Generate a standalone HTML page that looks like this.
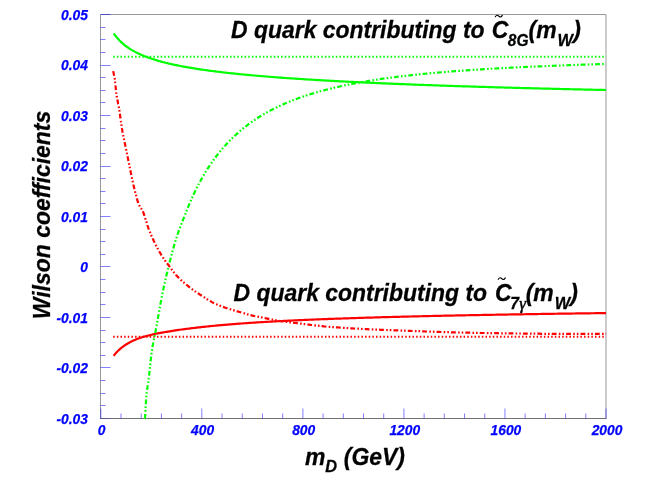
<!DOCTYPE html>
<html><head><meta charset="utf-8"><title>Wilson coefficients</title>
<style>
html,body{margin:0;padding:0;background:#fff;overflow:hidden;}
svg{display:block;}
text{font-family:"Liberation Sans",sans-serif;font-style:italic;font-weight:bold;}
.tl text{font-size:13.8px;fill:#0000ff;stroke:#0000ff;stroke-width:0.25px;}
.big{font-size:22.95px;fill:#000;stroke:#000;stroke-width:0.28px;}
.sub{font-size:17px;}
.til{font-size:14px;font-weight:normal;stroke-width:0.2px;}
</style></head><body>
<svg width="654" height="484" viewBox="0 0 654 484">
<rect x="0" y="0" width="654" height="484" fill="#fff"/>
<g fill="none" stroke-width="1">
<path d="M100.5,418.5 V14.5 H606.0 V418.5" stroke="#999"/>
<path d="M100.0,418.5 H606.5" stroke="#727272"/>
</g>
<g stroke="#0000ff" stroke-opacity="0.5" stroke-width="1" fill="none">
<line x1="100.80" y1="418.5" x2="100.80" y2="408.5"/>
<line x1="121.01" y1="418.5" x2="121.01" y2="413.5"/>
<line x1="141.22" y1="418.5" x2="141.22" y2="413.5"/>
<line x1="161.42" y1="418.5" x2="161.42" y2="413.5"/>
<line x1="181.63" y1="418.5" x2="181.63" y2="413.5"/>
<line x1="201.84" y1="418.5" x2="201.84" y2="408.5"/>
<line x1="222.05" y1="418.5" x2="222.05" y2="413.5"/>
<line x1="242.26" y1="418.5" x2="242.26" y2="413.5"/>
<line x1="262.46" y1="418.5" x2="262.46" y2="413.5"/>
<line x1="282.67" y1="418.5" x2="282.67" y2="413.5"/>
<line x1="302.88" y1="418.5" x2="302.88" y2="408.5"/>
<line x1="323.09" y1="418.5" x2="323.09" y2="413.5"/>
<line x1="343.30" y1="418.5" x2="343.30" y2="413.5"/>
<line x1="363.50" y1="418.5" x2="363.50" y2="413.5"/>
<line x1="383.71" y1="418.5" x2="383.71" y2="413.5"/>
<line x1="403.92" y1="418.5" x2="403.92" y2="408.5"/>
<line x1="424.13" y1="418.5" x2="424.13" y2="413.5"/>
<line x1="444.34" y1="418.5" x2="444.34" y2="413.5"/>
<line x1="464.54" y1="418.5" x2="464.54" y2="413.5"/>
<line x1="484.75" y1="418.5" x2="484.75" y2="413.5"/>
<line x1="504.96" y1="418.5" x2="504.96" y2="408.5"/>
<line x1="525.17" y1="418.5" x2="525.17" y2="413.5"/>
<line x1="545.38" y1="418.5" x2="545.38" y2="413.5"/>
<line x1="565.58" y1="418.5" x2="565.58" y2="413.5"/>
<line x1="585.79" y1="418.5" x2="585.79" y2="413.5"/>
<line x1="606.00" y1="418.5" x2="606.00" y2="408.5"/>
<line x1="100.5" y1="14.50" x2="110.5" y2="14.50"/>
<line x1="100.5" y1="27.50" x2="105.5" y2="27.50"/>
<line x1="100.5" y1="39.50" x2="105.5" y2="39.50"/>
<line x1="100.5" y1="52.50" x2="105.5" y2="52.50"/>
<line x1="100.5" y1="65.50" x2="110.5" y2="65.50"/>
<line x1="100.5" y1="77.50" x2="105.5" y2="77.50"/>
<line x1="100.5" y1="90.50" x2="105.5" y2="90.50"/>
<line x1="100.5" y1="102.50" x2="105.5" y2="102.50"/>
<line x1="100.5" y1="115.50" x2="110.5" y2="115.50"/>
<line x1="100.5" y1="128.50" x2="105.5" y2="128.50"/>
<line x1="100.5" y1="140.50" x2="105.5" y2="140.50"/>
<line x1="100.5" y1="153.50" x2="105.5" y2="153.50"/>
<line x1="100.5" y1="166.50" x2="110.5" y2="166.50"/>
<line x1="100.5" y1="178.50" x2="105.5" y2="178.50"/>
<line x1="100.5" y1="191.50" x2="105.5" y2="191.50"/>
<line x1="100.5" y1="203.50" x2="105.5" y2="203.50"/>
<line x1="100.5" y1="216.50" x2="110.5" y2="216.50"/>
<line x1="100.5" y1="229.50" x2="105.5" y2="229.50"/>
<line x1="100.5" y1="241.50" x2="105.5" y2="241.50"/>
<line x1="100.5" y1="254.50" x2="105.5" y2="254.50"/>
<line x1="100.5" y1="266.50" x2="110.5" y2="266.50"/>
<line x1="100.5" y1="279.50" x2="105.5" y2="279.50"/>
<line x1="100.5" y1="292.50" x2="105.5" y2="292.50"/>
<line x1="100.5" y1="304.50" x2="105.5" y2="304.50"/>
<line x1="100.5" y1="317.50" x2="110.5" y2="317.50"/>
<line x1="100.5" y1="330.50" x2="105.5" y2="330.50"/>
<line x1="100.5" y1="342.50" x2="105.5" y2="342.50"/>
<line x1="100.5" y1="355.50" x2="105.5" y2="355.50"/>
<line x1="100.5" y1="367.50" x2="110.5" y2="367.50"/>
<line x1="100.5" y1="380.50" x2="105.5" y2="380.50"/>
<line x1="100.5" y1="393.50" x2="105.5" y2="393.50"/>
<line x1="100.5" y1="405.50" x2="105.5" y2="405.50"/>
<line x1="100.5" y1="418.50" x2="110.5" y2="418.50" stroke-opacity="0.2"/>
</g>
<g fill="none" stroke-width="2.2" stroke-linejoin="round">
<path stroke="#00ff00" d="M113.80,33.32 L114.65,34.56 L115.55,35.79 L116.50,37.01 L117.50,38.22 L118.50,39.35 L119.55,40.48 L120.65,41.58 L121.75,42.63 L122.90,43.66 L124.05,44.63 L125.25,45.59 L126.45,46.50 L127.70,47.39 L128.95,48.25 L130.25,49.09 L131.55,49.89 L132.85,50.65 L134.20,51.40 L135.55,52.12 L136.90,52.81 L138.25,53.47 L139.65,54.12 L141.05,54.74 L142.45,55.35 L143.85,55.92 L145.25,56.48 L146.70,57.03 L148.15,57.57 L149.60,58.08 L151.05,58.58 L152.50,59.05 L153.95,59.52 L155.40,59.97 L156.85,60.40 L158.30,60.82 L159.75,61.23 L161.20,61.63 L162.65,62.01 L164.15,62.40 L165.65,62.77 L167.15,63.14 L168.65,63.50 L170.15,63.84 L171.65,64.18 L173.15,64.51 L174.65,64.83 L176.15,65.15 L177.65,65.45 L179.15,65.75 L180.65,66.04 L182.15,66.33 L183.65,66.61 L185.15,66.88 L186.65,67.15 L188.15,67.41 L189.65,67.67 L191.15,67.92 L192.65,68.17 L194.15,68.41 L195.65,68.65 L197.15,68.88 L198.65,69.11 L200.15,69.34 L201.65,69.56 L203.15,69.77 L204.65,69.99 L206.15,70.20 L207.65,70.40 L209.15,70.61 L210.65,70.81 L212.15,71.00 L213.65,71.20 L215.15,71.39 L216.65,71.57 L218.15,71.76 L219.65,71.94 L221.15,72.12 L222.65,72.30 L224.15,72.47 L225.65,72.64 L227.15,72.81 L228.65,72.98 L230.15,73.14 L231.65,73.30 L233.15,73.46 L234.65,73.62 L236.15,73.78 L237.65,73.93 L239.15,74.08 L240.65,74.23 L242.15,74.38 L243.65,74.53 L245.15,74.67 L246.65,74.81 L248.15,74.95 L249.65,75.09 L251.15,75.23 L252.65,75.37 L254.15,75.50 L255.65,75.63 L257.15,75.76 L258.65,75.89 L260.15,76.02 L261.65,76.15 L263.15,76.27 L264.65,76.40 L266.15,76.52 L267.65,76.64 L269.15,76.76 L270.65,76.88 L272.15,77.00 L273.65,77.11 L275.15,77.23 L276.65,77.34 L278.15,77.45 L279.65,77.57 L281.15,77.68 L282.65,77.79 L284.15,77.89 L285.65,78.00 L287.15,78.11 L288.65,78.21 L290.15,78.32 L291.65,78.42 L293.15,78.52 L294.65,78.62 L296.15,78.72 L297.65,78.82 L299.15,78.92 L300.65,79.02 L302.15,79.12 L303.65,79.21 L305.15,79.31 L306.65,79.40 L308.15,79.49 L309.65,79.59 L311.15,79.68 L312.65,79.77 L314.15,79.86 L315.65,79.95 L317.15,80.04 L318.65,80.13 L320.15,80.21 L321.65,80.30 L323.15,80.39 L324.65,80.47 L326.15,80.55 L327.65,80.64 L329.15,80.72 L330.65,80.80 L332.15,80.89 L333.65,80.97 L335.15,81.05 L336.65,81.13 L338.15,81.21 L339.65,81.29 L341.15,81.36 L342.65,81.44 L344.15,81.52 L345.65,81.60 L347.15,81.67 L348.65,81.75 L350.15,81.82 L351.65,81.90 L353.15,81.97 L354.65,82.04 L356.15,82.12 L357.65,82.19 L359.15,82.26 L360.65,82.33 L362.15,82.40 L363.65,82.47 L365.15,82.54 L366.65,82.61 L368.15,82.68 L369.65,82.75 L371.15,82.82 L372.65,82.88 L374.15,82.95 L375.65,83.02 L377.15,83.08 L378.65,83.15 L380.15,83.22 L381.65,83.28 L383.15,83.35 L384.65,83.41 L386.15,83.47 L387.65,83.54 L389.15,83.60 L390.65,83.66 L392.15,83.72 L393.65,83.79 L395.15,83.85 L396.65,83.91 L398.15,83.97 L399.65,84.03 L401.15,84.09 L402.65,84.15 L404.15,84.21 L405.65,84.27 L407.15,84.33 L408.65,84.38 L410.15,84.44 L411.65,84.50 L413.15,84.56 L414.65,84.61 L416.15,84.67 L417.65,84.73 L419.15,84.78 L420.65,84.84 L422.15,84.89 L423.65,84.95 L425.15,85.00 L426.65,85.06 L428.15,85.11 L429.65,85.16 L431.15,85.22 L432.65,85.27 L434.15,85.32 L435.65,85.38 L437.15,85.43 L438.65,85.48 L440.15,85.53 L441.65,85.58 L443.15,85.64 L444.65,85.69 L446.15,85.74 L447.65,85.79 L449.15,85.84 L450.65,85.89 L452.15,85.94 L453.65,85.99 L455.15,86.04 L456.65,86.09 L458.15,86.13 L459.65,86.18 L461.15,86.23 L462.65,86.28 L464.15,86.33 L465.65,86.37 L467.15,86.42 L468.65,86.47 L470.15,86.52 L471.65,86.56 L473.15,86.61 L474.65,86.65 L476.15,86.70 L477.65,86.75 L479.15,86.79 L480.65,86.84 L482.15,86.88 L483.65,86.93 L485.15,86.97 L486.65,87.02 L488.15,87.06 L489.65,87.10 L491.15,87.15 L492.65,87.19 L494.15,87.24 L495.65,87.28 L497.15,87.32 L498.65,87.37 L500.15,87.41 L501.65,87.45 L503.15,87.49 L504.65,87.53 L506.15,87.58 L507.65,87.62 L509.15,87.66 L510.65,87.70 L512.15,87.74 L513.65,87.78 L515.15,87.82 L516.65,87.87 L518.15,87.91 L519.65,87.95 L521.15,87.99 L522.65,88.03 L524.15,88.07 L525.65,88.11 L527.15,88.15 L528.65,88.19 L530.15,88.22 L531.65,88.26 L533.15,88.30 L534.65,88.34 L536.15,88.38 L537.65,88.42 L539.15,88.46 L540.65,88.49 L542.15,88.53 L543.65,88.57 L545.15,88.61 L546.65,88.65 L548.15,88.68 L549.65,88.72 L551.15,88.76 L552.65,88.79 L554.15,88.83 L555.65,88.87 L557.15,88.90 L558.65,88.94 L560.15,88.98 L561.65,89.01 L563.15,89.05 L564.65,89.08 L566.15,89.12 L567.65,89.16 L569.15,89.19 L570.65,89.23 L572.15,89.26 L573.65,89.30 L575.15,89.33 L576.65,89.37 L578.15,89.40 L579.65,89.43 L581.15,89.47 L582.65,89.50 L584.15,89.54 L585.65,89.57 L587.15,89.61 L588.65,89.64 L590.15,89.67 L591.65,89.71 L593.15,89.74 L594.65,89.77 L596.15,89.81 L597.65,89.84 L599.15,89.87 L600.65,89.90 L602.15,89.94 L603.65,89.97 L605.15,90.00 L606.00,90.02"/>
<path stroke="#ff0000" d="M113.60,355.86 L114.55,354.66 L115.55,353.49 L116.60,352.33 L117.65,351.24 L118.75,350.18 L119.90,349.13 L121.05,348.15 L122.25,347.19 L123.50,346.26 L124.75,345.38 L126.05,344.53 L127.35,343.72 L128.65,342.97 L130.00,342.24 L131.35,341.54 L132.75,340.87 L134.15,340.24 L135.55,339.64 L136.95,339.08 L138.40,338.53 L139.85,338.01 L141.30,337.53 L142.75,337.07 L144.20,336.63 L145.65,336.22 L147.10,335.83 L148.60,335.44 L150.10,335.07 L151.60,334.71 L153.10,334.37 L154.60,334.04 L156.10,333.73 L157.60,333.42 L159.10,333.13 L160.60,332.85 L162.10,332.57 L163.60,332.30 L165.10,332.04 L166.60,331.79 L168.10,331.54 L169.60,331.30 L171.10,331.06 L172.60,330.83 L174.10,330.60 L175.60,330.38 L177.10,330.16 L178.60,329.95 L180.10,329.74 L181.60,329.53 L183.10,329.32 L184.60,329.12 L186.10,328.93 L187.60,328.73 L189.10,328.54 L190.60,328.35 L192.10,328.17 L193.60,327.99 L195.10,327.81 L196.60,327.63 L198.10,327.46 L199.60,327.29 L201.10,327.13 L202.60,326.96 L204.10,326.80 L205.60,326.64 L207.10,326.48 L208.60,326.33 L210.10,326.18 L211.60,326.03 L213.10,325.88 L214.60,325.74 L216.10,325.59 L217.60,325.45 L219.10,325.32 L220.60,325.18 L222.10,325.05 L223.60,324.91 L225.10,324.78 L226.60,324.66 L228.10,324.53 L229.60,324.41 L231.10,324.28 L232.60,324.16 L234.10,324.05 L235.60,323.93 L237.10,323.81 L238.60,323.70 L240.10,323.59 L241.60,323.48 L243.10,323.37 L244.60,323.26 L246.10,323.16 L247.60,323.05 L249.10,322.95 L250.60,322.85 L252.10,322.75 L253.60,322.65 L255.10,322.56 L256.60,322.46 L258.10,322.37 L259.60,322.27 L261.10,322.18 L262.60,322.09 L264.10,322.00 L265.60,321.91 L267.10,321.82 L268.60,321.74 L270.10,321.65 L271.60,321.57 L273.10,321.49 L274.60,321.40 L276.10,321.32 L277.60,321.24 L279.10,321.16 L280.60,321.08 L282.10,321.01 L283.60,320.93 L285.10,320.85 L286.60,320.78 L288.10,320.71 L289.60,320.63 L291.10,320.56 L292.60,320.49 L294.10,320.42 L295.60,320.35 L297.10,320.28 L298.60,320.21 L300.10,320.14 L301.60,320.07 L303.10,320.01 L304.60,319.94 L306.10,319.88 L307.60,319.81 L309.10,319.75 L310.60,319.68 L312.10,319.62 L313.60,319.56 L315.10,319.50 L316.60,319.44 L318.10,319.38 L319.60,319.32 L321.10,319.26 L322.60,319.20 L324.10,319.14 L325.60,319.08 L327.10,319.03 L328.60,318.97 L330.10,318.91 L331.60,318.86 L333.10,318.80 L334.60,318.75 L336.10,318.69 L337.60,318.64 L339.10,318.59 L340.60,318.53 L342.10,318.48 L343.60,318.43 L345.10,318.38 L346.60,318.33 L348.10,318.28 L349.60,318.23 L351.10,318.18 L352.60,318.13 L354.10,318.08 L355.60,318.03 L357.10,317.98 L358.60,317.94 L360.10,317.89 L361.60,317.84 L363.10,317.80 L364.60,317.75 L366.10,317.70 L367.60,317.66 L369.10,317.61 L370.60,317.57 L372.10,317.53 L373.60,317.48 L375.10,317.44 L376.60,317.39 L378.10,317.35 L379.60,317.31 L381.10,317.27 L382.60,317.22 L384.10,317.18 L385.60,317.14 L387.10,317.10 L388.60,317.06 L390.10,317.02 L391.60,316.98 L393.10,316.94 L394.60,316.90 L396.10,316.86 L397.60,316.82 L399.10,316.78 L400.60,316.74 L402.10,316.70 L403.60,316.66 L405.10,316.63 L406.60,316.59 L408.10,316.55 L409.60,316.51 L411.10,316.48 L412.60,316.44 L414.10,316.40 L415.60,316.37 L417.10,316.33 L418.60,316.30 L420.10,316.26 L421.60,316.23 L423.10,316.19 L424.60,316.16 L426.10,316.12 L427.60,316.09 L429.10,316.05 L430.60,316.02 L432.10,315.99 L433.60,315.95 L435.10,315.92 L436.60,315.89 L438.10,315.85 L439.60,315.82 L441.10,315.79 L442.60,315.76 L444.10,315.72 L445.60,315.69 L447.10,315.66 L448.60,315.63 L450.10,315.60 L451.60,315.57 L453.10,315.53 L454.60,315.50 L456.10,315.47 L457.60,315.44 L459.10,315.41 L460.60,315.38 L462.10,315.35 L463.60,315.32 L465.10,315.29 L466.60,315.26 L468.10,315.23 L469.60,315.21 L471.10,315.18 L472.60,315.15 L474.10,315.12 L475.60,315.09 L477.10,315.06 L478.60,315.03 L480.10,315.01 L481.60,314.98 L483.10,314.95 L484.60,314.92 L486.10,314.90 L487.60,314.87 L489.10,314.84 L490.60,314.81 L492.10,314.79 L493.60,314.76 L495.10,314.73 L496.60,314.71 L498.10,314.68 L499.60,314.65 L501.10,314.63 L502.60,314.60 L504.10,314.58 L505.60,314.55 L507.10,314.53 L508.60,314.50 L510.10,314.47 L511.60,314.45 L513.10,314.42 L514.60,314.40 L516.10,314.37 L517.60,314.35 L519.10,314.33 L520.60,314.30 L522.10,314.28 L523.60,314.25 L525.10,314.23 L526.60,314.20 L528.10,314.18 L529.60,314.16 L531.10,314.13 L532.60,314.11 L534.10,314.09 L535.60,314.06 L537.10,314.04 L538.60,314.02 L540.10,313.99 L541.60,313.97 L543.10,313.95 L544.60,313.92 L546.10,313.90 L547.60,313.88 L549.10,313.86 L550.60,313.83 L552.10,313.81 L553.60,313.79 L555.10,313.77 L556.60,313.75 L558.10,313.72 L559.60,313.70 L561.10,313.68 L562.60,313.66 L564.10,313.64 L565.60,313.62 L567.10,313.60 L568.60,313.57 L570.10,313.55 L571.60,313.53 L573.10,313.51 L574.60,313.49 L576.10,313.47 L577.60,313.45 L579.10,313.43 L580.60,313.41 L582.10,313.39 L583.60,313.37 L585.10,313.35 L586.60,313.33 L588.10,313.31 L589.60,313.29 L591.10,313.27 L592.60,313.25 L594.10,313.23 L595.60,313.21 L597.10,313.19 L598.60,313.17 L600.10,313.15 L601.60,313.13 L603.10,313.11 L604.60,313.09 L606.00,313.07"/>
<path stroke="#00ff00" stroke-width="2" stroke-dasharray="1.5 2.15" d="M113.2,56.85 H606"/>
<path stroke="#ff0000" stroke-width="2" stroke-dasharray="1.5 2.15" d="M113.2,336.85 H606"/>
<path stroke="#00ff00" stroke-dasharray="4.8 2.3 1.6 2 1.6 2.1" d="M144.60,418.51 L144.95,418.24 L145.10,416.63 L145.25,414.41 L145.35,412.70 L145.45,410.86 L145.55,408.95 L145.65,407.04 L145.75,405.17 L145.85,403.41 L145.95,401.77 L146.05,400.25 L146.20,398.17 L146.35,396.32 L146.50,394.67 L146.70,392.73 L146.90,391.06 L147.15,389.24 L147.40,387.64 L147.65,386.15 L147.90,384.67 L148.15,383.11 L148.40,381.37 L148.60,379.82 L148.80,378.16 L149.00,376.41 L149.20,374.57 L149.40,372.68 L149.60,370.75 L149.80,368.80 L150.00,366.85 L150.20,364.92 L150.40,363.02 L150.60,361.16 L150.80,359.38 L151.00,357.68 L151.20,356.05 L151.40,354.50 L151.65,352.66 L151.90,350.91 L152.15,349.25 L152.40,347.67 L152.65,346.17 L152.95,344.44 L153.25,342.79 L153.55,341.20 L153.85,339.66 L154.15,338.15 L154.45,336.67 L154.75,335.19 L155.05,333.72 L155.35,332.23 L155.65,330.72 L155.95,329.18 L156.25,327.59 L156.55,325.98 L156.85,324.33 L157.15,322.66 L157.45,320.98 L157.75,319.28 L158.05,317.56 L158.35,315.85 L158.65,314.13 L158.95,312.41 L159.25,310.69 L159.55,308.99 L159.85,307.30 L160.15,305.62 L160.45,303.97 L160.75,302.33 L161.05,300.73 L161.35,299.14 L161.65,297.58 L161.95,296.05 L162.25,294.53 L162.55,293.04 L162.85,291.57 L163.20,289.87 L163.55,288.21 L163.90,286.56 L164.25,284.94 L164.60,283.34 L164.95,281.76 L165.30,280.21 L165.65,278.67 L166.00,277.14 L166.35,275.64 L166.70,274.15 L167.05,272.68 L167.40,271.22 L167.80,269.56 L168.20,267.93 L168.60,266.30 L169.00,264.69 L169.40,263.10 L169.80,261.52 L170.20,259.95 L170.60,258.40 L171.00,256.87 L171.40,255.35 L171.80,253.85 L172.20,252.37 L172.60,250.91 L173.05,249.28 L173.50,247.68 L173.95,246.11 L174.40,244.56 L174.85,243.04 L175.30,241.55 L175.75,240.08 L176.20,238.65 L176.70,237.08 L177.20,235.56 L177.70,234.07 L178.20,232.62 L178.70,231.20 L179.25,229.68 L179.80,228.19 L180.35,226.74 L180.90,225.30 L181.45,223.88 L182.00,222.47 L182.55,221.06 L183.10,219.66 L183.65,218.26 L184.20,216.85 L184.75,215.45 L185.30,214.05 L185.90,212.53 L186.50,211.02 L187.10,209.52 L187.70,208.04 L188.30,206.57 L188.90,205.12 L189.50,203.69 L190.10,202.28 L190.70,200.89 L191.35,199.41 L192.00,197.95 L192.65,196.51 L193.30,195.10 L193.95,193.70 L194.60,192.33 L195.30,190.88 L196.00,189.45 L196.70,188.04 L197.40,186.65 L198.10,185.29 L198.80,183.95 L199.55,182.54 L200.30,181.15 L201.05,179.78 L201.80,178.43 L202.55,177.11 L203.30,175.81 L204.10,174.45 L204.90,173.11 L205.70,171.79 L206.50,170.50 L207.30,169.22 L208.15,167.89 L209.00,166.59 L209.85,165.31 L210.70,164.05 L211.55,162.81 L212.45,161.52 L213.35,160.25 L214.25,159.01 L215.15,157.79 L216.10,156.53 L217.05,155.29 L218.00,154.07 L218.95,152.87 L219.90,151.70 L220.90,150.49 L221.90,149.30 L222.90,148.13 L223.90,146.98 L224.90,145.86 L225.95,144.70 L227.00,143.56 L228.05,142.44 L229.10,141.35 L230.15,140.27 L231.25,139.17 L232.35,138.08 L233.45,137.02 L234.55,135.98 L235.65,134.95 L236.80,133.90 L237.95,132.87 L239.10,131.87 L240.25,130.88 L241.40,129.91 L242.60,128.91 L243.80,127.94 L245.00,126.98 L246.20,126.05 L247.40,125.13 L248.60,124.23 L249.85,123.31 L251.10,122.41 L252.35,121.53 L253.60,120.66 L254.85,119.81 L256.10,118.98 L257.40,118.13 L258.70,117.30 L260.00,116.48 L261.30,115.68 L262.60,114.90 L263.90,114.13 L265.20,113.38 L266.55,112.61 L267.90,111.86 L269.25,111.12 L270.60,110.40 L271.95,109.69 L273.30,109.00 L274.65,108.32 L276.00,107.65 L277.35,106.99 L278.75,106.33 L280.15,105.67 L281.55,105.03 L282.95,104.40 L284.35,103.79 L285.75,103.18 L287.15,102.59 L288.55,102.01 L289.95,101.44 L291.35,100.88 L292.75,100.32 L294.15,99.78 L295.60,99.24 L297.05,98.70 L298.50,98.17 L299.95,97.65 L301.40,97.14 L302.85,96.64 L304.30,96.15 L305.75,95.67 L307.20,95.20 L308.65,94.73 L310.10,94.27 L311.55,93.83 L313.00,93.39 L314.45,92.95 L315.90,92.53 L317.35,92.11 L318.80,91.70 L320.25,91.29 L321.70,90.90 L323.15,90.51 L324.65,90.11 L326.15,89.72 L327.65,89.34 L329.15,88.96 L330.65,88.59 L332.15,88.22 L333.65,87.86 L335.15,87.51 L336.65,87.16 L338.15,86.82 L339.65,86.49 L341.15,86.16 L342.65,85.83 L344.15,85.51 L345.65,85.20 L347.15,84.89 L348.65,84.58 L350.15,84.28 L351.65,83.98 L353.15,83.69 L354.65,83.41 L356.15,83.12 L357.65,82.85 L359.15,82.57 L360.65,82.30 L362.15,82.04 L363.65,81.78 L365.15,81.52 L366.65,81.27 L368.15,81.02 L369.65,80.77 L371.15,80.53 L372.65,80.29 L374.15,80.05 L375.65,79.82 L377.15,79.59 L378.65,79.37 L380.15,79.14 L381.65,78.93 L383.15,78.71 L384.65,78.50 L386.15,78.29 L387.65,78.08 L389.15,77.88 L390.65,77.68 L392.15,77.48 L393.65,77.28 L395.15,77.09 L396.65,76.90 L398.15,76.71 L399.65,76.53 L401.15,76.35 L402.65,76.17 L404.15,75.99 L405.65,75.81 L407.15,75.64 L408.65,75.47 L410.15,75.30 L411.65,75.14 L413.15,74.97 L414.65,74.81 L416.15,74.65 L417.65,74.50 L419.15,74.34 L420.65,74.19 L422.15,74.04 L423.65,73.89 L425.15,73.74 L426.65,73.60 L428.15,73.45 L429.65,73.31 L431.15,73.17 L432.65,73.03 L434.15,72.90 L435.65,72.76 L437.15,72.63 L438.65,72.50 L440.15,72.37 L441.65,72.24 L443.15,72.11 L444.65,71.99 L446.15,71.86 L447.65,71.74 L449.15,71.62 L450.65,71.50 L452.15,71.38 L453.65,71.27 L455.15,71.15 L456.65,71.04 L458.15,70.93 L459.65,70.82 L461.15,70.71 L462.65,70.60 L464.15,70.49 L465.65,70.39 L467.15,70.28 L468.65,70.18 L470.15,70.07 L471.65,69.97 L473.15,69.87 L474.65,69.77 L476.15,69.68 L477.65,69.58 L479.15,69.48 L480.65,69.39 L482.15,69.30 L483.65,69.20 L485.15,69.11 L486.65,69.02 L488.15,68.93 L489.65,68.84 L491.15,68.75 L492.65,68.67 L494.15,68.58 L495.65,68.50 L497.15,68.41 L498.65,68.33 L500.15,68.25 L501.65,68.16 L503.15,68.08 L504.65,68.00 L506.15,67.92 L507.65,67.85 L509.15,67.77 L510.65,67.69 L512.15,67.61 L513.65,67.54 L515.15,67.46 L516.65,67.39 L518.15,67.32 L519.65,67.24 L521.15,67.17 L522.65,67.10 L524.15,67.03 L525.65,66.96 L527.15,66.89 L528.65,66.82 L530.15,66.75 L531.65,66.69 L533.15,66.62 L534.65,66.55 L536.15,66.49 L537.65,66.42 L539.15,66.36 L540.65,66.29 L542.15,66.23 L543.65,66.17 L545.15,66.11 L546.65,66.04 L548.15,65.98 L549.65,65.92 L551.15,65.86 L552.65,65.80 L554.15,65.74 L555.65,65.68 L557.15,65.62 L558.65,65.57 L560.15,65.51 L561.65,65.45 L563.15,65.40 L564.65,65.34 L566.15,65.28 L567.65,65.23 L569.15,65.17 L570.65,65.12 L572.15,65.06 L573.65,65.01 L575.15,64.96 L576.65,64.90 L578.15,64.85 L579.65,64.80 L581.15,64.75 L582.65,64.70 L584.15,64.65 L585.65,64.59 L587.15,64.54 L588.65,64.49 L590.15,64.44 L591.65,64.39 L593.15,64.35 L594.65,64.30 L596.15,64.25 L597.65,64.20 L599.15,64.15 L600.65,64.10 L602.15,64.06 L603.65,64.01 L605.15,63.96 L606.00,63.94"/>
<path stroke="#ff0000" stroke-dasharray="4.8 2.3 1.6 2 1.6 2.1" d="M113.2,71.1 L113.5,72.6 L113.8,74.0 L114.1,75.5 L114.4,77.0 L114.7,78.5 L114.9,79.9 L115.1,81.4 L115.2,82.9 L115.4,84.4 L115.5,85.9 L115.7,87.4 L115.8,88.9 L115.9,90.4 L116.1,91.9 L116.3,93.4 L116.5,94.8 L116.7,96.3 L117.0,97.8 L117.3,99.3 L117.6,100.8 L117.9,102.2 L118.1,103.7 L118.4,105.2 L118.7,106.6 L119.0,108.1 L119.2,109.6 L119.5,111.1 L119.7,112.6 L119.9,114.1 L120.1,115.5 L120.3,117.0 L120.5,118.5 L120.7,120.0 L120.9,121.5 L121.2,123.0 L121.4,124.5 L121.6,125.9 L121.8,127.4 L122.0,128.9 L122.3,130.4 L122.5,131.9 L122.8,133.3 L123.1,134.8 L123.4,136.3 L123.7,137.7 L124.0,139.2 L124.3,140.7 L124.6,142.2 L124.9,143.6 L125.2,145.1 L125.5,146.6 L125.8,148.0 L126.1,149.5 L126.4,151.0 L126.7,152.4 L127.0,153.9 L127.3,155.4 L127.6,156.9 L127.9,158.3 L128.2,159.8 L128.5,161.3 L128.8,162.7 L129.1,164.2 L129.4,165.7 L129.7,167.1 L130.0,168.6 L130.3,170.1 L130.6,171.5 L130.9,173.0 L131.2,174.5 L131.5,176.0 L131.8,177.4 L132.1,178.9 L132.4,180.4 L132.8,181.8 L133.1,183.3 L133.4,184.7 L133.8,186.2 L134.1,187.7 L134.5,189.1 L134.9,190.6 L135.2,192.0 L135.6,193.5 L136.0,194.9 L136.4,196.4 L136.7,197.8 L137.1,199.3 L137.5,200.8 L137.9,202.2 L138.4,203.6 L139.0,205.0 L139.7,206.3 L140.4,207.6 L141.4,208.8 L142.3,210.0 L142.9,211.3 L143.4,212.7 L143.9,214.2 L144.4,215.6 L144.9,217.0 L145.3,218.4 L145.8,219.9 L146.2,221.3 L146.7,222.7 L147.1,224.2 L147.5,225.6 L148.0,227.0 L148.5,228.5 L149.0,229.9 L149.6,231.3 L150.2,232.6 L150.8,234.0 L151.3,235.4 L152.0,236.8 L152.6,238.1 L153.2,239.5 L153.8,240.9 L154.5,242.2 L155.1,243.6 L155.8,244.9 L156.5,246.3 L157.1,247.6 L157.9,248.9 L158.6,250.2 L159.3,251.5 L160.1,252.8 L160.8,254.1 L161.6,255.4 L162.4,256.7 L163.2,257.9 L164.1,259.2 L164.9,260.4 L165.8,261.6 L166.7,262.8 L167.6,264.0 L168.5,265.2 L169.4,266.4 L170.3,267.6 L171.2,268.8 L172.1,270.0 L173.0,271.2 L173.9,272.4 L174.9,273.6 L175.8,274.7 L176.8,275.8 L177.9,276.9 L178.9,278.0 L180.0,279.0 L181.1,280.1 L182.2,281.1 L183.3,282.1 L184.5,283.1 L185.6,284.0 L186.8,285.0 L187.9,285.9 L189.1,286.9 L190.3,287.8 L191.5,288.7 L192.7,289.6 L193.9,290.4 L195.1,291.3 L196.4,292.2 L197.6,293.0 L198.9,293.8 L200.1,294.7 L201.4,295.5 L202.6,296.3 L203.9,297.1 L205.2,298.0 L206.4,298.8 L207.7,299.6 L209.0,300.4 L210.3,301.1 L211.6,301.9 L212.9,302.6 L214.2,303.2 L215.6,303.8 L217.0,304.5 L218.3,305.0 L219.7,305.6 L221.1,306.2 L222.5,306.7 L224.0,307.2 L225.4,307.7 L226.8,308.2 L228.2,308.7 L229.6,309.1 L231.1,309.5 L232.5,310.0 L234.0,310.4 L235.4,310.8 L236.8,311.2 L238.3,311.6 L239.7,312.0 L241.2,312.5 L242.6,312.9 L244.0,313.3 L245.5,313.8 L246.9,314.2 L248.4,314.6 L249.8,315.0 L251.3,315.3 L252.7,315.6 L254.2,316.0 L255.7,316.3 L257.1,316.6 L258.6,316.8 L260.1,317.1 L261.6,317.4 L263.0,317.7 L264.5,318.0 L266.0,318.3 L267.4,318.6 L268.9,318.9 L270.4,319.2 L271.9,319.5 L273.3,319.7 L274.8,320.0 L276.3,320.3 L277.8,320.5 L279.2,320.8 L280.7,321.0 L282.2,321.3 L283.7,321.5 L285.2,321.7 L286.7,321.9 L288.1,322.1 L289.6,322.3 L291.1,322.5 L292.6,322.7 L294.1,322.9 L295.6,323.0 L297.1,323.2 L298.6,323.4 L300.1,323.6 L301.5,323.7 L303.0,323.9 L304.5,324.1 L306.0,324.3 L307.5,324.5 L309.0,324.7 L310.5,324.9 L312.0,325.0 L313.5,325.2 L314.9,325.4 L316.4,325.6 L317.9,325.7 L319.4,325.9 L320.9,326.1 L322.4,326.2 L323.9,326.4 L325.4,326.5 L326.9,326.6 L328.4,326.7 L329.9,326.9 L331.4,327.0 L332.9,327.1 L334.4,327.2 L335.9,327.3 L337.3,327.4 L338.8,327.5 L340.3,327.6 L341.8,327.7 L343.3,327.8 L344.8,327.9 L346.3,328.0 L347.8,328.1 L349.3,328.2 L350.8,328.3 L352.3,328.4 L353.8,328.5 L355.3,328.6 L356.8,328.6 L358.3,328.7 L359.8,328.8 L361.3,328.9 L362.8,329.0 L364.3,329.0 L365.8,329.1 L367.3,329.2 L368.8,329.3 L370.3,329.3 L371.8,329.4 L373.3,329.5 L374.8,329.5 L376.3,329.6 L377.8,329.7 L379.3,329.7 L380.8,329.8 L382.3,329.9 L383.8,329.9 L385.3,330.0 L386.8,330.0 L388.3,330.1 L389.8,330.2 L391.3,330.2 L392.8,330.3 L394.3,330.3 L395.8,330.4 L397.3,330.4 L398.8,330.5 L400.3,330.6 L401.8,330.6 L403.3,330.7 L404.8,330.7 L406.3,330.8 L407.8,330.8 L409.3,330.9 L410.8,330.9 L412.3,331.0 L413.8,331.0 L415.3,331.1 L416.8,331.1 L418.3,331.2 L419.8,331.2 L421.3,331.3 L422.8,331.4 L424.3,331.4 L425.8,331.5 L427.3,331.5 L428.8,331.6 L430.3,331.6 L431.8,331.7 L433.3,331.7 L434.7,331.8 L436.2,331.8 L437.7,331.9 L439.2,331.9 L440.7,332.0 L442.2,332.0 L443.7,332.1 L445.2,332.1 L446.7,332.2 L448.2,332.2 L449.7,332.2 L451.2,332.3 L452.7,332.3 L454.2,332.4 L455.7,332.4 L457.2,332.4 L458.7,332.5 L460.2,332.5 L461.7,332.5 L463.2,332.6 L464.7,332.6 L466.2,332.7 L467.7,332.7 L469.2,332.7 L470.7,332.7 L472.2,332.8 L473.7,332.8 L475.2,332.8 L476.7,332.9 L478.2,332.9 L479.7,332.9 L481.2,333.0 L482.7,333.0 L484.2,333.0 L485.7,333.0 L487.2,333.1 L488.7,333.1 L490.2,333.1 L491.7,333.2 L493.2,333.2 L494.7,333.2 L496.2,333.2 L497.7,333.2 L499.2,333.3 L500.7,333.3 L502.2,333.3 L503.7,333.3 L505.2,333.4 L506.7,333.4 L508.2,333.4 L509.7,333.4 L511.2,333.4 L512.7,333.4 L514.2,333.5 L515.7,333.5 L517.2,333.5 L518.7,333.5 L520.2,333.5 L521.7,333.5 L523.2,333.6 L524.7,333.6 L526.2,333.6 L527.7,333.6 L529.2,333.6 L530.7,333.6 L532.2,333.7 L533.7,333.7 L535.2,333.7 L536.7,333.7 L538.2,333.7 L539.7,333.7 L541.2,333.8 L542.7,333.8 L544.2,333.8 L545.7,333.8 L547.2,333.8 L548.7,333.8 L550.2,333.8 L551.7,333.8 L553.2,333.8 L554.7,333.9 L556.2,333.9 L557.7,333.9 L559.2,333.9 L560.7,333.9 L562.2,333.9 L563.7,333.9 L565.2,333.9 L566.7,333.9 L568.2,333.9 L569.7,333.9 L571.2,333.9 L572.7,333.9 L574.2,333.9 L575.7,333.9 L577.2,333.9 L578.7,333.9 L580.2,333.9 L581.7,333.9 L583.2,333.9 L584.7,333.9 L586.2,333.9 L587.7,333.9 L589.2,333.9 L590.7,333.9 L592.2,333.9 L593.7,333.9 L595.2,333.9 L596.7,333.9 L598.2,333.9 L599.7,333.9 L601.2,333.9 L602.7,333.9 L604.2,333.9 L605.7,333.9 L606.0,333.9"/>
</g>
<g opacity="0.999">
<g class="tl">
<text x="101.5" y="435.1" text-anchor="middle">0</text>
<text x="202.6" y="435.1" text-anchor="middle">400</text>
<text x="303.7" y="435.1" text-anchor="middle">800</text>
<text x="404.8" y="435.1" text-anchor="middle">1200</text>
<text x="505.9" y="435.1" text-anchor="middle">1600</text>
<text x="607.0" y="435.1" text-anchor="middle">2000</text>
<text x="87.9" y="19.6" text-anchor="end">0.05</text>
<text x="87.9" y="70.1" text-anchor="end">0.04</text>
<text x="87.9" y="120.6" text-anchor="end">0.03</text>
<text x="87.9" y="171.1" text-anchor="end">0.02</text>
<text x="87.9" y="221.6" text-anchor="end">0.01</text>
<text x="87.9" y="272.1" text-anchor="end">0</text>
<text x="87.9" y="322.6" text-anchor="end">-0.01</text>
<text x="87.9" y="373.1" text-anchor="end">-0.02</text>
<text x="87.9" y="423.6" text-anchor="end">-0.03</text>
</g>
<text class="big" transform="translate(231,38.4) scale(1,1.03)">D quark contributing to</text>
<text class="big" transform="translate(491.7,38.4) scale(1,1.03)">C</text>
<text class="big" transform="translate(507.8,46.2) scale(1,1.03)" style="font-size:15.5px">8G</text>
<text class="big" transform="translate(528.5,38.4) scale(1,1.03)">(m</text>
<text class="big" transform="translate(557.6,46.2) scale(1,1.03)" style="font-size:16.3px">W</text>
<text class="big" transform="translate(573.3,38.4) scale(1,1.03)">)</text>
<path transform="translate(495.3,16.8)" fill="none" stroke="#000" stroke-width="1.15" stroke-linecap="round" d="M0,0 C0.6,-0.9 1.2,-1.6 1.9,-1.5 C2.7,-1.4 2.9,-1.0 3.6,-0.6 C4.2,-0.2 4.5,0.2 5.1,0.2 C5.9,0.2 6.5,-0.5 7.0,-1.4"/>
<text class="big" transform="translate(233.5,301) scale(1,1.03)">D quark contributing to</text>
<text class="big" transform="translate(495,301) scale(1,1.03)">C</text>
<text class="big" transform="translate(510.3,308.6) scale(1,1.03)" style="font-size:15.7px">7</text>
<text class="big" transform="translate(519.3,308.6) scale(1,1.03)" style="font-size:17px;font-family:'Liberation Serif',serif;font-weight:normal;stroke-width:0.5px">γ</text>
<text class="big" transform="translate(525.64,301) scale(1,1.03)">(m</text>
<text class="big" transform="translate(554.7,308.5) scale(1,1.03)" style="font-size:16.3px">W</text>
<text class="big" transform="translate(570.3,301) scale(1,1.03)">)</text>
<path transform="translate(498.3,279.3)" fill="none" stroke="#000" stroke-width="1.15" stroke-linecap="round" d="M0,0 C0.6,-0.9 1.2,-1.6 1.9,-1.5 C2.7,-1.4 2.9,-1.0 3.6,-0.6 C4.2,-0.2 4.5,0.2 5.1,0.2 C5.9,0.2 6.5,-0.5 7.0,-1.4"/>
<text class="big" transform="translate(50.3,319.2) rotate(-90) scale(1,1.03)">Wilson coefficients</text>
<text class="big" transform="translate(305,464.8) scale(1,1.03)">m</text>
<text class="big" transform="translate(325.3,472.4) scale(1,1.03)" style="font-size:16.3px">D</text>
<text class="big" transform="translate(343.8,464.8) scale(1,1.03)">(GeV)</text>
</g>
</svg>
</body></html>
